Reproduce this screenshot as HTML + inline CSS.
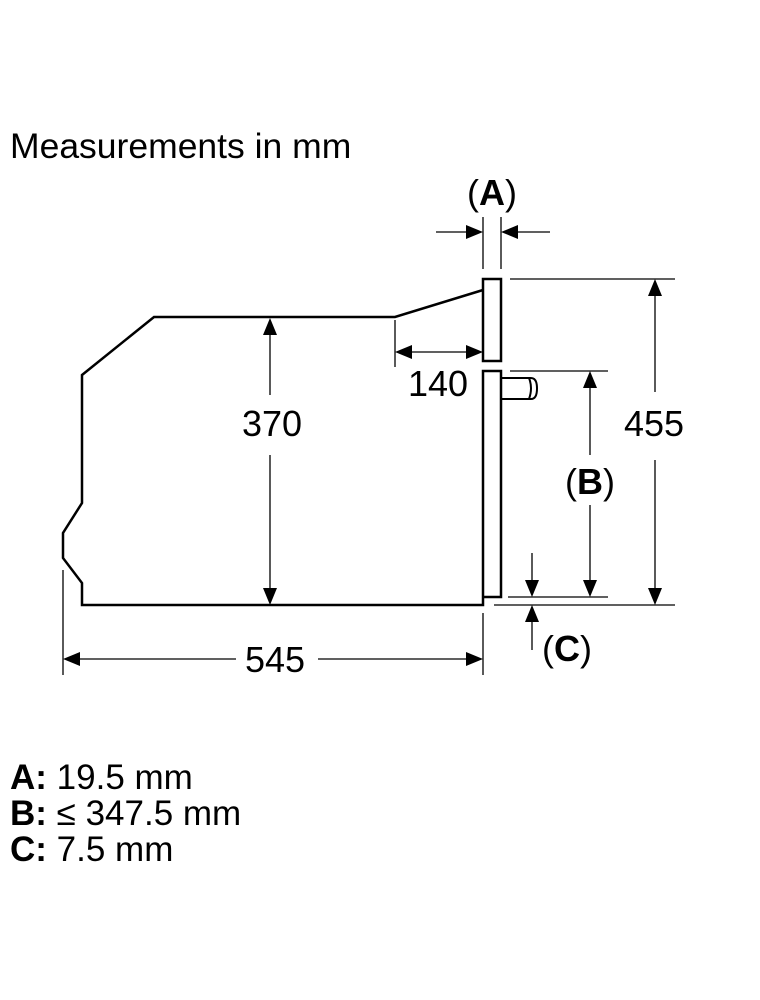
<!DOCTYPE html>
<html><head><style>
body{margin:0;background:#fff;}
svg{display:block;font-family:"Liberation Sans",Arial,sans-serif;}
</style></head><body>
<svg width="760" height="1000" viewBox="0 0 760 1000">
<text x="10" y="158" font-size="35.5">Measurements in mm</text>
<polyline fill="none" stroke="#000" stroke-width="2.5" points="483,290 395,317 154,317 82,375 82,503 63,533 63,558 82,583 82,605 483,605 483,597 501,597 501,371 483,371 483,605"/>
<rect x="483" y="279" width="18" height="82" fill="none" stroke="#000" stroke-width="2.5"/>
<path d="M501,378 H531 Q537,378 537,388.5 Q537,399 531,399 H501 M529,378 Q533,388 529,399" fill="none" stroke="#000" stroke-width="2"/>
<g stroke="#000" stroke-width="1.3" fill="none">
<line x1="483" y1="217" x2="483" y2="269"/><line x1="501" y1="217" x2="501" y2="269"/>
<line x1="436" y1="232" x2="470" y2="232"/><line x1="514" y1="232" x2="550" y2="232"/>
<line x1="395" y1="320" x2="395" y2="367"/><line x1="408" y1="352" x2="470" y2="352"/>
<line x1="270" y1="332" x2="270" y2="395"/><line x1="270" y1="455" x2="270" y2="592"/>
<line x1="63" y1="570" x2="63" y2="675"/><line x1="483" y1="613" x2="483" y2="675"/>
<line x1="76" y1="659" x2="236" y2="659"/><line x1="318" y1="659" x2="470" y2="659"/>
<line x1="510" y1="279" x2="675" y2="279"/><line x1="494" y1="605" x2="675" y2="605"/>
<line x1="655" y1="294" x2="655" y2="392"/><line x1="655" y1="460" x2="655" y2="590"/>
<line x1="510" y1="371" x2="608" y2="371"/><line x1="508" y1="597" x2="608" y2="597"/>
<line x1="590" y1="386" x2="590" y2="455"/><line x1="590" y1="505" x2="590" y2="582"/>
<line x1="532" y1="553" x2="532" y2="582"/><line x1="532" y1="620" x2="532" y2="650"/>
</g>
<g fill="#000">
<polygon points="483,232 466,225 466,239"/><polygon points="501,232 518,225 518,239"/>
<polygon points="395,352 412,345 412,359"/><polygon points="483,352 466,345 466,359"/>
<polygon points="270,318 263,335 277,335"/><polygon points="270,605 263,588 277,588"/>
<polygon points="63,659 80,652 80,666"/><polygon points="483,659 466,652 466,666"/>
<polygon points="655,279 648,296 662,296"/><polygon points="655,605 648,588 662,588"/>
<polygon points="590,371 583,388 597,388"/><polygon points="590,597 583,580 597,580"/>
<polygon points="532,597 525,580 539,580"/><polygon points="532,605 525,622 539,622"/>
</g>
<g font-size="36">
<text x="492" y="205" text-anchor="middle">(<tspan font-weight="bold">A</tspan>)</text>
<text x="438" y="396" text-anchor="middle">140</text>
<text x="272" y="436" text-anchor="middle">370</text>
<text x="654" y="436" text-anchor="middle">455</text>
<text x="590" y="494" text-anchor="middle">(<tspan font-weight="bold">B</tspan>)</text>
<text x="567" y="661" text-anchor="middle">(<tspan font-weight="bold">C</tspan>)</text>
<text x="275" y="672" text-anchor="middle">545</text>
</g>
<g font-size="35">
<text x="10" y="789"><tspan font-weight="bold">A:</tspan> 19.5 mm</text>
<text x="10" y="825"><tspan font-weight="bold">B:</tspan> ≤ 347.5 mm</text>
<text x="10" y="861"><tspan font-weight="bold">C:</tspan> 7.5 mm</text>
</g>
</svg>
</body></html>
